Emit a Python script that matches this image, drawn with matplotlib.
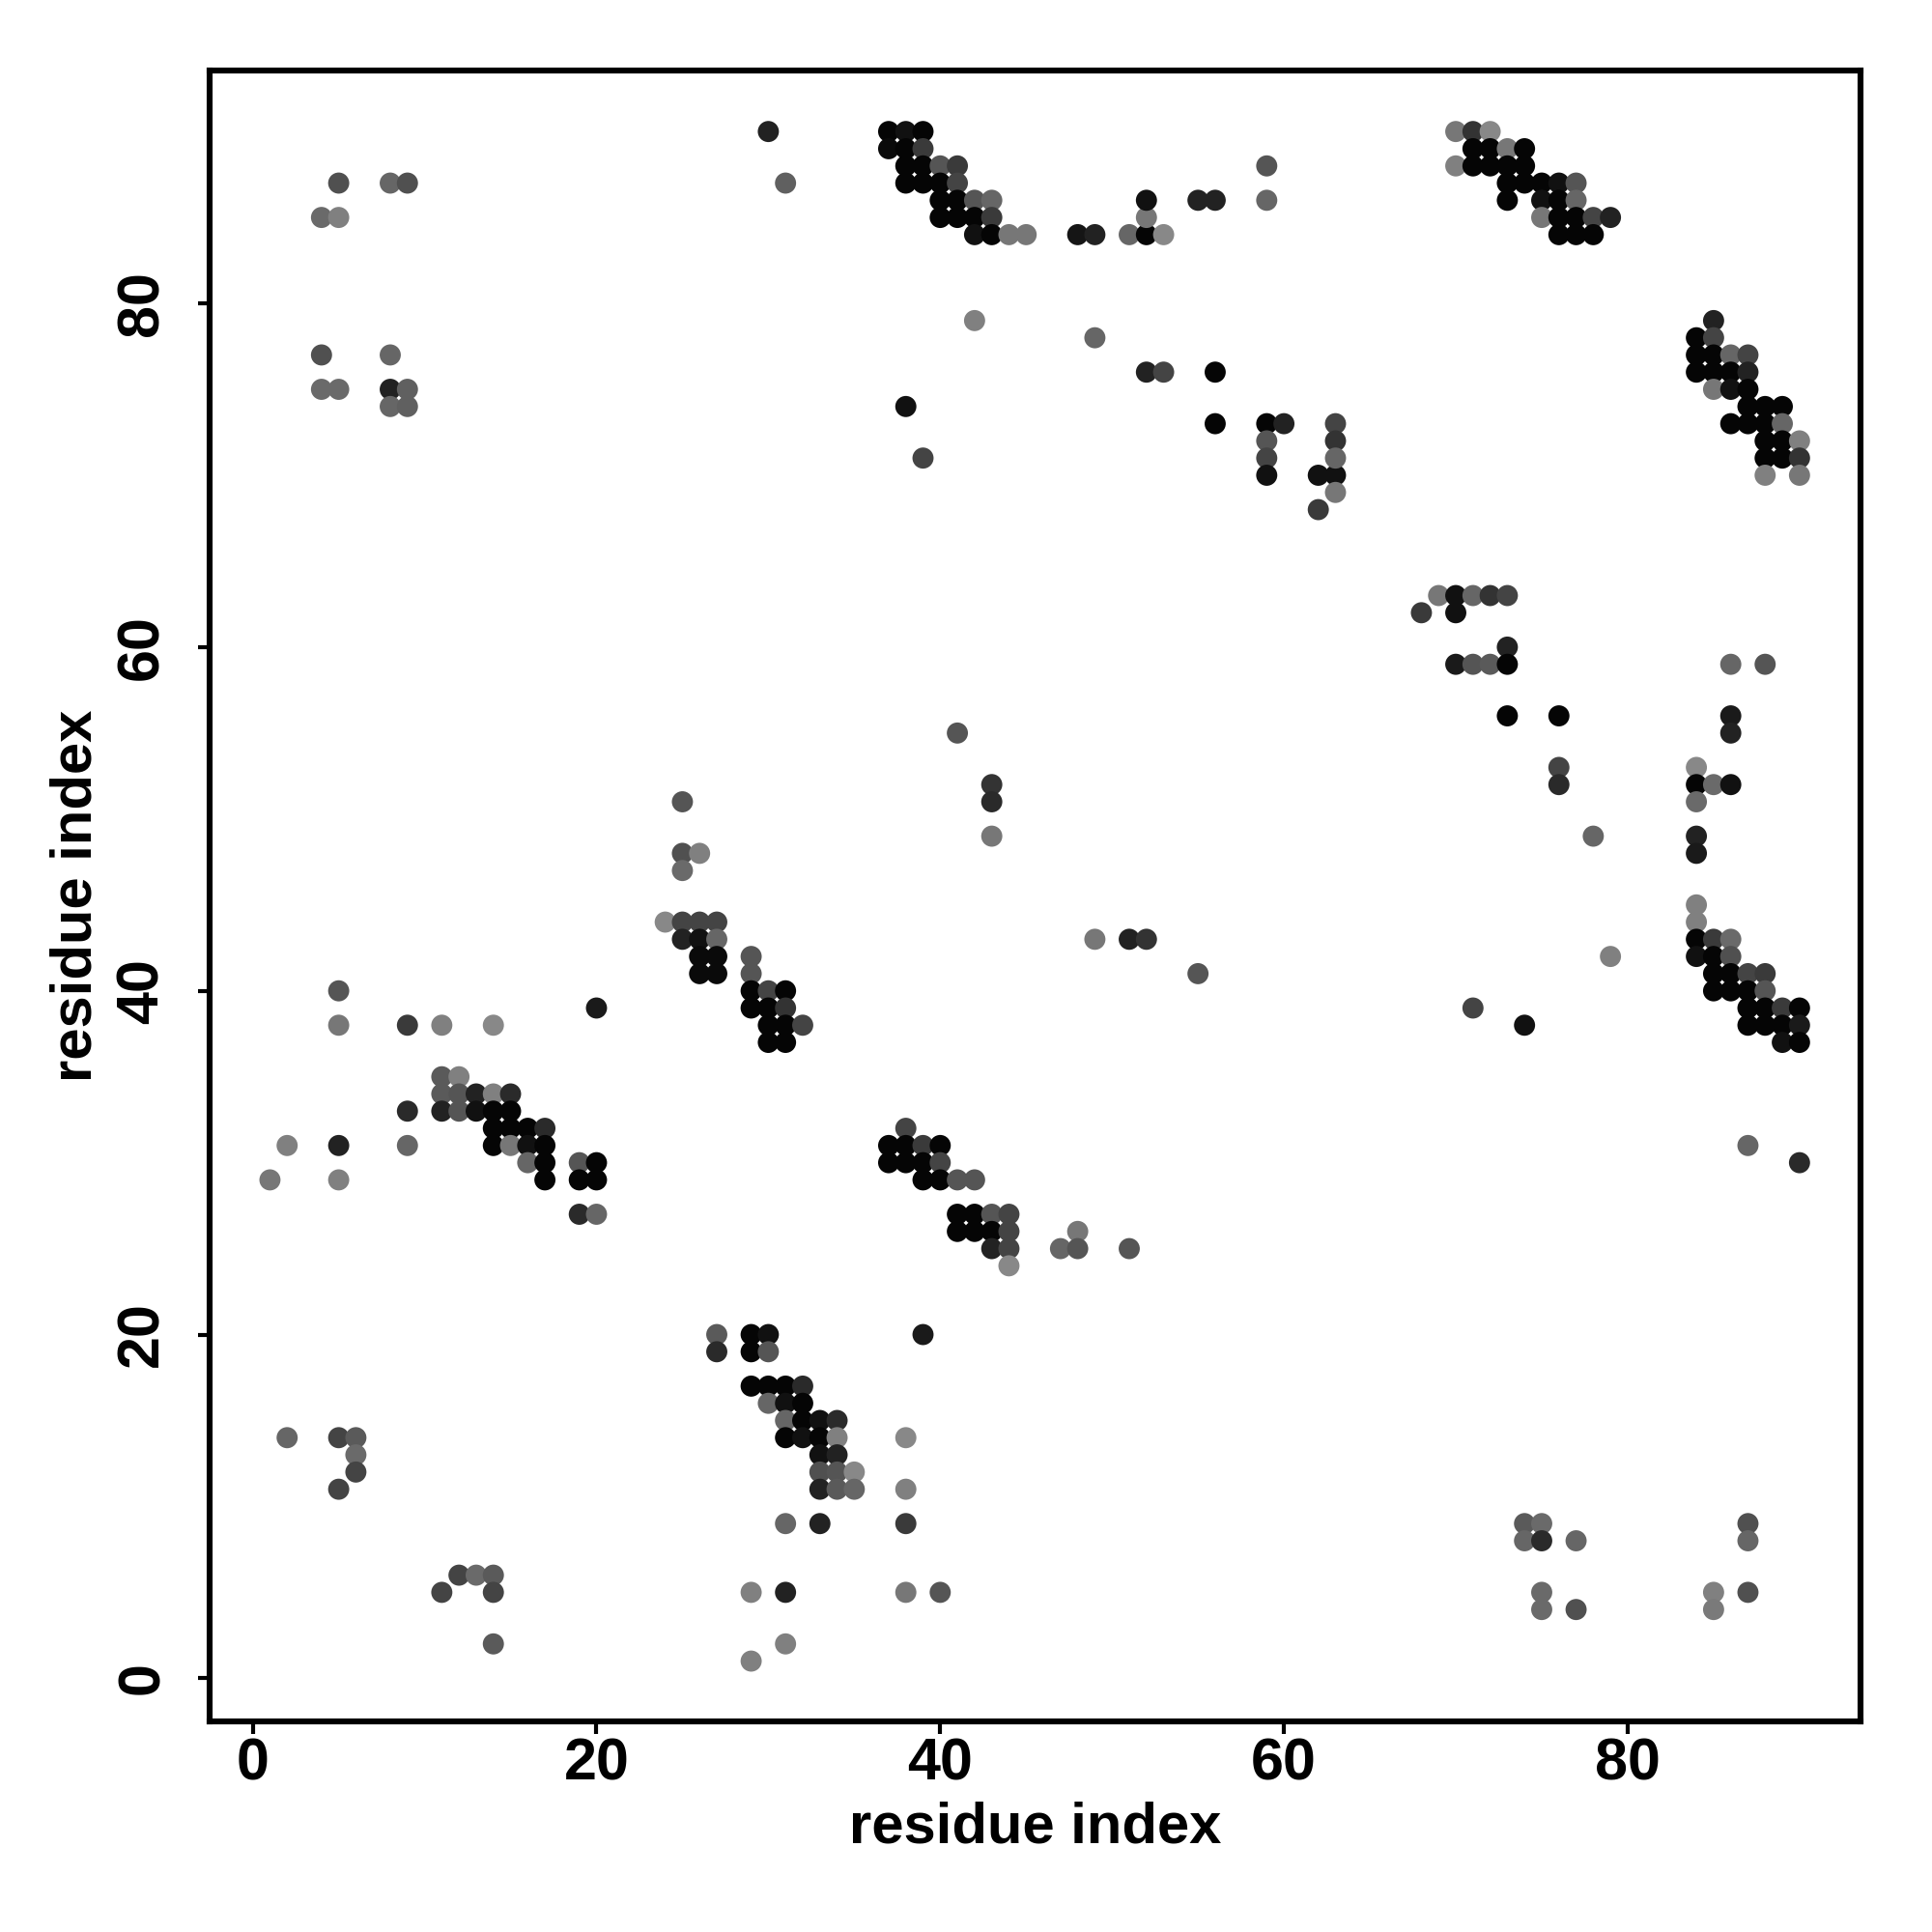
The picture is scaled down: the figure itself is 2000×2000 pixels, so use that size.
import matplotlib
matplotlib.use("Agg")
import matplotlib.pyplot as plt

# contactos: (i, j, gris 0-255) leidos del mapa
# bloque superior izquierdo
res_i_a = [30, 31, 5, 8, 9, 4, 5, 4, 8, 4, 5, 8, 9, 8, 9]
res_j_a = [90, 87, 87, 87, 87, 85, 85, 77, 77, 75, 75, 75, 75, 74, 74]
gris_a = [34, 96, 80, 102, 80, 106, 128, 80, 102, 106, 106, 34, 96, 102, 96]

# bloque superior central
res_i_b = [37, 38, 39, 37, 38, 39, 38, 39, 40, 41, 38, 39, 40, 41, 40, 41, 42, 43,
           40, 41, 42, 43, 42, 43, 44, 45, 48, 49, 51, 52, 53, 52, 52, 55, 56, 59,
           59, 42, 49, 52, 53, 56, 38, 56, 59, 60, 59, 59, 59, 39, 62, 63, 62, 63,
           63, 63, 63]
res_j_b = [90, 90, 90, 89, 89, 89, 88, 88, 88, 88, 87, 87, 87, 87, 86, 86, 86, 86,
           85, 85, 85, 85, 84, 84, 84, 84, 84, 84, 84, 84, 84, 85, 86, 86, 86, 88,
           86, 79, 78, 76, 76, 76, 74, 73, 73, 73, 72, 71, 70, 71, 70, 70, 68, 73,
           72, 71, 69]
gris_b = [5, 17, 5, 10, 5, 58, 5, 5, 85, 58, 5, 5, 5, 68, 5, 5, 85, 102,
          5, 5, 5, 58, 17, 5, 119, 119, 21, 34, 102, 5, 136, 119, 17, 34, 34, 85,
          102, 128, 102, 34, 68, 5, 17, 5, 5, 34, 85, 68, 17, 68, 17, 17, 58, 68,
          51, 102, 119]

# bloque superior derecho
res_i_c = [70, 71, 72, 71, 72, 73, 74, 70, 71, 72, 73, 74, 73, 74, 75, 76, 77,
           73, 75, 76, 77, 75, 76, 77, 78, 79, 76, 77, 78]
res_j_c = [90, 90, 90, 89, 89, 89, 89, 88, 88, 88, 88, 88, 87, 87, 87, 87, 87,
           86, 86, 86, 86, 85, 85, 85, 85, 85, 84, 84, 84]
gris_c = [119, 51, 136, 5, 5, 119, 5, 128, 5, 5, 5, 5, 5, 5, 5, 17, 85,
          5, 17, 5, 102, 119, 5, 5, 68, 34, 5, 5, 5]

# bloque derecho (70-79)
res_i_d = [85, 84, 85, 84, 85, 86, 87, 84, 85, 86, 87, 85, 86, 87, 87, 88, 89,
           86, 87, 88, 89, 88, 89, 90, 88, 89, 90, 88, 90]
res_j_d = [79, 78, 78, 77, 77, 77, 77, 76, 76, 76, 76, 75, 75, 75, 74, 74, 74,
           73, 73, 73, 73, 72, 72, 72, 71, 71, 71, 70, 70]
gris_d = [34, 5, 68, 5, 5, 102, 68, 5, 5, 5, 34, 119, 17, 5, 5, 5, 5,
          5, 5, 5, 102, 5, 5, 128, 5, 5, 51, 128, 119]

# bloque central derecho
res_i_e = [69, 70, 71, 72, 73, 68, 70, 73, 70, 71, 72, 73, 86, 88, 73, 76, 86, 86,
           76, 76, 84, 84, 85, 86, 84, 78, 84, 84, 84, 84, 84, 85, 86, 84, 85, 86,
           79, 85, 86, 87, 88, 85, 86, 87, 88, 87, 88, 89, 90, 87, 88, 89, 90, 89,
           90, 71, 74, 87, 90]
res_j_e = [63, 63, 63, 63, 63, 62, 62, 60, 59, 59, 59, 59, 59, 59, 56, 56, 56, 55,
           53, 52, 53, 52, 52, 52, 51, 49, 49, 48, 45, 44, 43, 43, 43, 42, 42, 42,
           42, 41, 41, 41, 41, 40, 40, 40, 40, 39, 39, 39, 39, 38, 38, 38, 38, 37,
           37, 39, 38, 31, 30]
gris_e = [119, 17, 102, 51, 68, 58, 17, 34, 26, 85, 90, 5, 102, 85, 5, 5, 26, 34,
          68, 42, 136, 5, 106, 17, 106, 102, 34, 26, 128, 128, 5, 58, 106, 17, 5, 80,
          128, 5, 5, 68, 58, 5, 5, 5, 85, 5, 5, 58, 5, 5, 5, 5, 26, 17,
          5, 68, 17, 102, 42]

# bloque central
res_i_f = [25, 25, 26, 25, 24, 25, 26, 27, 25, 26, 27, 26, 27, 26, 27, 29, 29, 29,
           30, 31, 29, 30, 31, 30, 31, 32, 30, 31,
           41, 43, 43, 43, 49, 51, 52, 55,
           38, 37, 38, 39, 40, 37, 38, 39, 40, 39, 40, 41, 42, 41, 42, 43, 44, 41,
           42, 43, 44, 43, 44, 44, 48, 47, 48, 51]
res_j_f = [51, 48, 48, 47, 44, 44, 44, 44, 43, 43, 43, 42, 42, 41, 41, 42, 41, 40,
           40, 40, 39, 39, 39, 38, 38, 38, 37, 37,
           55, 52, 51, 49, 43, 43, 43, 41,
           32, 31, 31, 31, 31, 30, 30, 30, 30, 29, 29, 29, 29, 27, 27, 27, 27, 26,
           26, 26, 26, 25, 25, 24, 26, 25, 25, 25]
gris_f = [85, 80, 128, 106, 136, 68, 68, 68, 34, 17, 102, 10, 10, 10, 10, 85, 85, 5,
          68, 5, 5, 5, 51, 5, 5, 68, 5, 5,
          85, 51, 42, 119, 119, 34, 51, 85,
          68, 5, 5, 58, 5, 5, 5, 5, 68, 5, 5, 85, 85, 5, 5, 85, 68, 5,
          5, 5, 68, 34, 68, 136, 119, 102, 85, 85]

# bloque central izquierdo
res_i_g = [5, 5, 9, 11, 14, 20, 11, 12, 11, 12, 13, 14, 15, 9, 11, 12, 13, 14, 15,
           14, 15, 16, 17, 2, 5, 9, 14, 15, 16, 17, 16, 17, 19, 20, 1, 5, 17, 19,
           20, 19, 20]
res_j_g = [40, 38, 38, 38, 38, 39, 35, 35, 34, 34, 34, 34, 34, 33, 33, 33, 33, 33, 33,
           32, 32, 32, 32, 31, 31, 31, 31, 31, 31, 31, 30, 30, 30, 30, 29, 29, 29, 29,
           29, 27, 27]
gris_g = [85, 119, 58, 128, 136, 26, 90, 128, 90, 85, 34, 128, 42, 42, 34, 85, 17, 5, 5,
          5, 5, 5, 42, 128, 34, 102, 5, 119, 17, 5, 102, 5, 85, 5, 119, 128, 5, 5,
          5, 42, 102]

# bloque inferior
res_i_h = [27, 27, 29, 30, 29, 30, 39, 29, 30, 31, 32, 30, 31, 32, 31, 32, 33, 34,
           31, 32, 33, 34, 33, 34, 33, 34, 35, 33, 34, 35, 38, 38, 31, 33, 38, 31,
           38, 40, 31, 29, 29,
           2, 5, 6, 6, 6, 5, 12, 13, 14, 11, 14, 14,
           74, 75, 74, 75, 77, 75, 75, 77, 87, 87, 85, 85, 87]
res_j_h = [20, 19, 20, 20, 19, 19, 20, 17, 17, 17, 17, 16, 16, 16, 15, 15, 15, 15,
           14, 14, 14, 14, 13, 13, 12, 12, 12, 11, 11, 11, 14, 11, 9, 9, 9, 5,
           5, 5, 2, 5, 1,
           14, 14, 14, 13, 12, 11, 6, 6, 6, 5, 5, 2,
           9, 9, 8, 8, 8, 5, 4, 4, 9, 8, 5, 4, 5]
gris_h = [90, 42, 5, 17, 5, 85, 26, 5, 5, 5, 42, 102, 17, 5, 102, 5, 17, 42,
          5, 17, 5, 128, 17, 34, 80, 85, 136, 34, 90, 102, 136, 128, 102, 34, 58, 34,
          119, 85, 128, 128, 128,
          102, 68, 90, 106, 68, 68, 68, 106, 90, 68, 68, 90,
          90, 106, 102, 42, 102, 106, 106, 80, 80, 102, 128, 122, 80]

res_i = res_i_a + res_i_b + res_i_c + res_i_d + res_i_e + res_i_f + res_i_g + res_i_h
res_j = res_j_a + res_j_b + res_j_c + res_j_d + res_j_e + res_j_f + res_j_g + res_j_h
gris = gris_a + gris_b + gris_c + gris_d + gris_e + gris_f + gris_g + gris_h

ticks = [0, 20, 40, 60, 80]

plt.rcParams['font.family'] = ['Liberation Sans', 'DejaVu Sans']
plt.rcParams['font.weight'] = 'bold'

fig = plt.figure(figsize=(10, 10), dpi=200)
ax = fig.add_axes([0.1085, 0.109, 0.8545, 0.8545])

colores = [(g / 255, g / 255, g / 255) for g in gris]
ax.scatter(res_i, res_j, s=62, c=colores, linewidths=0, zorder=3)

ax.set_xlim(-2.51, 93.55)
ax.set_ylim(-2.51, 93.55)
ax.set_xticks(ticks)
ax.set_yticks(ticks)

for lado in ax.spines.values():
    lado.set_linewidth(2.2)
    lado.set_color('black')

ax.tick_params(axis='both', length=4.5, width=1.5, color='black', labelsize=22)
ax.tick_params(axis='x', pad=1.5)
ax.tick_params(axis='y', pad=10, labelrotation=90)
for t in ax.get_yticklabels():
    t.set_va('center')
    t.set_fontweight('bold')
for t in ax.get_xticklabels():
    t.set_fontweight('bold')

ax.set_xlabel('residue index', fontsize=21.5, fontweight='bold')
ax.set_ylabel('residue index', fontsize=21.5, fontweight='bold')
ax.xaxis.set_label_coords(0.5, -0.0644)
ax.xaxis.label.set_va('center')
ax.yaxis.set_label_coords(-0.0807, 0.5)
ax.yaxis.label.set_va('center')

fig.savefig('out.png', dpi=200)
